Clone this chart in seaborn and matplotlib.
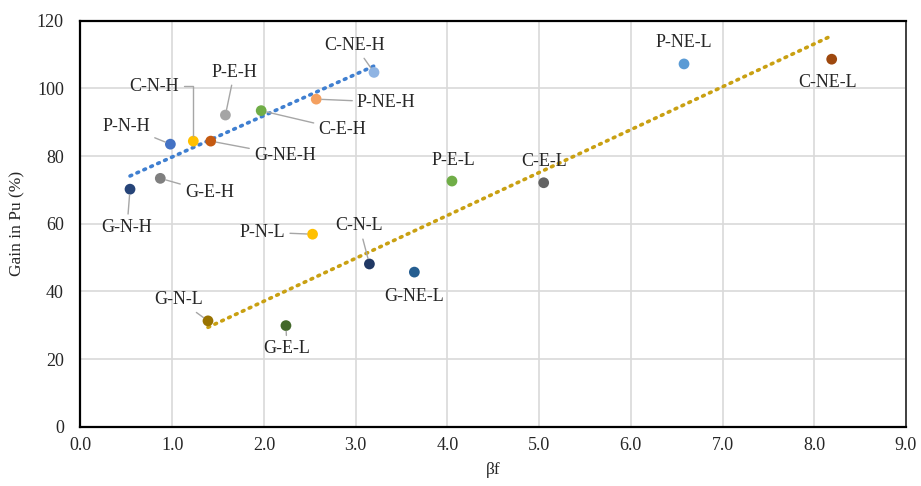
import numpy as np
import pandas as pd
import matplotlib
matplotlib.use("Agg")
import matplotlib.pyplot as plt
import seaborn as sns

# Data
labels = ["G-N-H", "G-E-H", "P-N-H", "C-N-H", "G-NE-H", "P-E-H", "C-E-H", "P-NE-H", "C-NE-H",
          "G-N-L", "G-E-L", "P-N-L", "C-N-L", "G-NE-L", "P-E-L", "C-E-L", "P-NE-L", "C-NE-L"]
beta_f = [0.54, 0.87, 0.98, 1.23, 1.42, 1.58, 1.97, 2.57, 3.20,
          1.39, 2.24, 2.53, 3.15, 3.64, 4.05, 5.05, 6.58, 8.19]
gain_pu = [70.2, 73.4, 83.5, 84.4, 84.4, 92.1, 93.4, 96.8, 104.7,
           31.3, 29.9, 56.9, 48.1, 45.7, 72.6, 72.1, 107.2, 108.6]
group = ["H"] * 9 + ["L"] * 9

# Styles
palette = {
    "G-N-H": "#264478", "G-E-H": "#7F7F7F", "P-N-H": "#4472C4", "C-N-H": "#FFC000",
    "G-NE-H": "#C55A11", "P-E-H": "#A5A5A5", "C-E-H": "#70AD47", "P-NE-H": "#F4A060",
    "C-NE-H": "#8FB4E3",
    "G-N-L": "#997300", "G-E-L": "#43682B", "P-N-L": "#FFC000", "C-N-L": "#203864",
    "G-NE-L": "#255E91", "P-E-L": "#70AD47", "C-E-L": "#636363", "P-NE-L": "#5B9BD5",
    "C-NE-L": "#9E480E",
}
trend_colors = {"H": "#3F7FD0", "L": "#C9A012"}

# label offsets in pixels (dx, dy) and whether a leader line is drawn
offsets = {
    "G-N-H": (-3, -38, True), "G-E-H": (49, -14, True), "P-N-H": (-44, 18, True),
    "C-N-H": (-39, 55, "elbow"), "G-NE-H": (74, -14, True), "P-E-H": (9, 43, True),
    "C-E-H": (81, -19, True), "P-NE-H": (70, -3, True), "C-NE-H": (-19, 27, True),
    "G-N-L": (-29, 21, True), "G-E-L": (1, -23, True), "P-N-L": (-50, 2, True),
    "C-N-L": (-10, 38, True), "G-NE-L": (0, -24, False), "P-E-L": (1, 21, False),
    "C-E-L": (0, 21, False), "P-NE-L": (0, 21, False), "C-NE-L": (-4, -23, False),
}

df = pd.DataFrame({"label": labels, "beta_f": beta_f, "gain": gain_pu, "group": group})

sns.set_theme(style="whitegrid")
plt.rcParams["font.family"] = ["Liberation Serif", "DejaVu Serif"]

fig = plt.figure(figsize=(9.21, 4.86), dpi=100)
ax = fig.add_axes([0.0874, 0.1218, 0.8963, 0.8358])

# linear trendlines for each group
for g in ["H", "L"]:
    sub = df[df["group"] == g]
    sns.regplot(data=sub, x="beta_f", y="gain", ax=ax, scatter=False, ci=None,
                truncate=True,
                line_kws=dict(color=trend_colors[g], lw=2.6, linestyle=(0, (0.5, 1.6)),
                              dash_capstyle="round", zorder=2))

sns.scatterplot(data=df, x="beta_f", y="gain", hue="label", palette=palette,
                s=60, edgecolor="none", legend=False, ax=ax, zorder=3)

for lab, x, y in zip(labels, beta_f, gain_pu):
    dx, dy, leader = offsets[lab]
    kw = {}
    if leader:
        cs = "angle,angleA=0,angleB=90,rad=0" if leader == "elbow" else "arc3"
        kw["arrowprops"] = dict(arrowstyle="-", color="#A6A6A6", lw=1.0,
                                shrinkA=1, shrinkB=4, connectionstyle=cs)
    ax.annotate(lab, (x, y), xytext=(dx, dy), textcoords="offset pixels",
                ha="center", va="center", fontsize=13, color="#262626", zorder=4, **kw)

ax.set_xlim(0, 9)
ax.set_ylim(0, 120)
ax.set_xticks(np.arange(0, 9.1, 1.0))
ax.set_xticklabels([f"{v:.1f}" for v in np.arange(0, 9.1, 1.0)])
ax.set_yticks(np.arange(0, 121, 20))
ax.tick_params(axis="both", length=0, labelsize=13, colors="#262626")
ax.tick_params(axis="y", pad=12)
ax.tick_params(axis="x", pad=7)
ax.grid(True, color="#D9D9D9", lw=1.2)
ax.set_axisbelow(True)
ax.set_xlabel("βf", fontsize=12.5, color="#262626", labelpad=6)
ax.set_ylabel("Gain in Pu (%)", fontsize=12.5, color="#262626", labelpad=8)

for side in ["left", "bottom", "top"]:
    ax.spines[side].set_color("black")
    ax.spines[side].set_linewidth(1.6)
ax.spines["right"].set_color("#404040")
ax.spines["right"].set_linewidth(1.4)

fig.savefig("out.png", dpi=100)
